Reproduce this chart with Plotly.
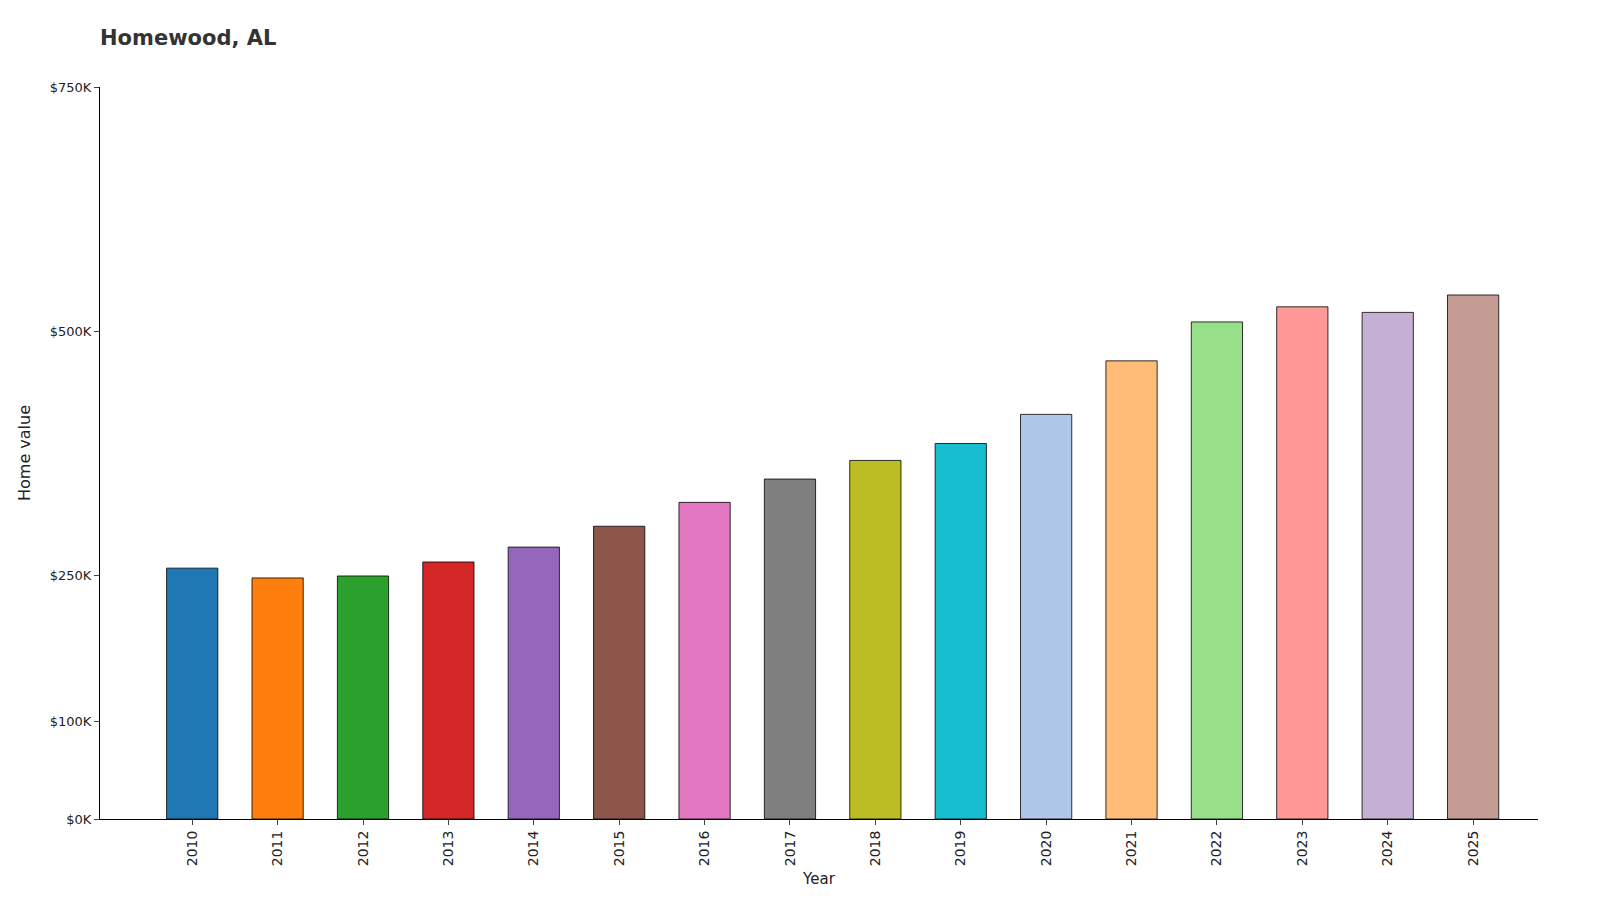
import plotly.graph_objects as go

years = [str(y) for y in range(2010, 2026)]
values = [257040, 246981, 248998, 263328, 278609, 299962, 324416, 348300, 367394,
          384724, 414572, 469417, 509288, 524784, 519081, 536894]
changes = ["—", "-3.9%", "+0.8%", "+5.8%", "+5.8%", "+7.7%", "+8.2%", "+7.4%", "+5.5%",
           "+4.7%", "+7.8%", "+13.2%", "+8.5%", "+3.0%", "-1.1%", "+3.4%"]
colors = ["#1f77b4", "#ff7f0e", "#2ca02c", "#d62728", "#9467bd", "#8c564b", "#e377c2",
          "#7f7f7f", "#bcbd22", "#17becf", "#aec7e8", "#ffbb78", "#98df8a", "#ff9896",
          "#c5b0d5", "#c49c94"]
tick_vals = [0, 100000, 250000, 500000, 750000]
tick_text = ["$0K", "$100K", "$250K", "$500K", "$750K"]

fig = go.Figure(go.Bar(x=years, y=values, marker_color=colors,
                       marker_line_color="black", marker_line_width=0.8, width=0.6))
for y, v, c in zip(years, values, changes):
    fig.add_annotation(x=y, y=v, text=f"${v:,}<br>{c}", textangle=-90, showarrow=False,
                       yanchor="bottom", yshift=4, font=dict(size=11, color="#333"))
fig.update_layout(
    width=1600, height=911, plot_bgcolor="white", paper_bgcolor="white",
    margin=dict(l=92, r=70, t=79, b=100), showlegend=False,
    font=dict(family="DejaVu Sans", color="#222"),
    title=dict(text="<b>Homewood, AL</b>", x=0.0575, xanchor="left", y=0.975, yanchor="top",
               font=dict(size=21, color="#333")),
    xaxis=dict(title=dict(text="Year", font=dict(size=15), standoff=8), range=[-1.08, 15.76],
               tickangle=-90, showline=True, linecolor="black", ticks="outside",
               ticklen=5, tickfont=dict(size=14)),
    yaxis=dict(title=dict(text="Home value", font=dict(size=16)), range=[0, 750000],
               tickvals=tick_vals, ticktext=tick_text, showgrid=False, showline=True,
               linecolor="black", ticks="outside", ticklen=5, tickfont=dict(size=13), zeroline=False),
)
fig.write_html("out.html")
